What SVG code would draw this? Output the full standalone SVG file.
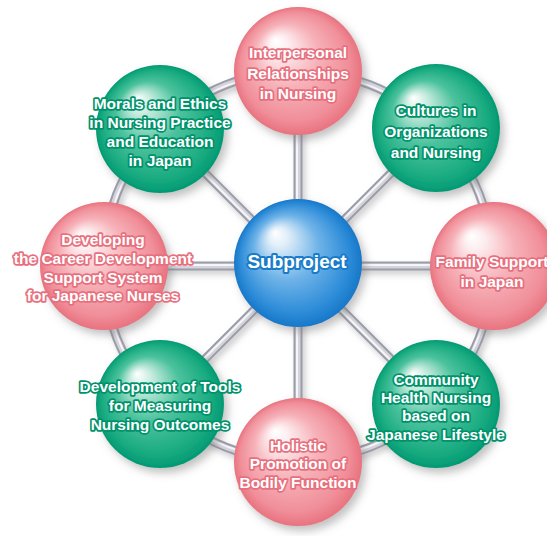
<svg xmlns="http://www.w3.org/2000/svg" width="547" height="536" viewBox="0 0 547 536">
<defs>
<radialGradient id="gPink" cx="0.5" cy="0.5" r="0.5" fx="0.32" fy="0.26">
<stop offset="0" stop-color="#ffffff"/>
<stop offset="0.15" stop-color="#fdeef0"/>
<stop offset="0.5" stop-color="#f6b1b8"/>
<stop offset="0.85" stop-color="#f08e99"/>
<stop offset="1" stop-color="#e8737f"/>
</radialGradient>
<radialGradient id="gGreen" cx="0.5" cy="0.5" r="0.5" fx="0.32" fy="0.26">
<stop offset="0" stop-color="#ffffff"/>
<stop offset="0.15" stop-color="#cfeee3"/>
<stop offset="0.5" stop-color="#4cc29d"/>
<stop offset="0.85" stop-color="#1aab80"/>
<stop offset="1" stop-color="#019a74"/>
</radialGradient>
<radialGradient id="gBlue" cx="0.5" cy="0.5" r="0.5" fx="0.32" fy="0.26">
<stop offset="0" stop-color="#ffffff"/>
<stop offset="0.15" stop-color="#e0eef9"/>
<stop offset="0.5" stop-color="#6fb3e8"/>
<stop offset="0.85" stop-color="#2d8cd8"/>
<stop offset="1" stop-color="#1778c9"/>
</radialGradient>
<filter id="sh" x="-30%" y="-30%" width="160%" height="160%">
<feDropShadow dx="4" dy="5" stdDeviation="4" flood-color="#777" flood-opacity="0.45"/>
</filter>
<filter id="shl" x="-10%" y="-10%" width="120%" height="120%">
<feDropShadow dx="3" dy="4" stdDeviation="3" flood-color="#888" flood-opacity="0.4"/>
</filter>
</defs>
<style>
.t{font-family:"Liberation Sans",Arial,Helvetica,sans-serif;font-weight:bold;font-size:15.5px;fill:#ffffff;text-anchor:middle;paint-order:stroke;stroke-width:3.5px;stroke-linejoin:round}
.tp{stroke:#e7707e}
.tg{stroke:#00926b}
.tb{stroke:#1a7cc9;font-size:19px;stroke-width:4px}
.tube1{fill:none;stroke:#9c9caa;stroke-width:9}
.tube2{fill:none;stroke:#d4d4dc;stroke-width:5}
.tube3{fill:none;stroke:#f6f6f9;stroke-width:2}
</style>
<rect width="547" height="536" fill="#ffffff"/>
<g id="connectors">
<g filter="url(#shl)">
<circle class="tube1" cx="298" cy="266" r="195"/>
<path class="tube1" d="M298 71V461M103 266H493M160.1 128.1L435.9 403.9M435.9 128.1L160.1 403.9"/>
</g>
<circle class="tube2" cx="298" cy="266" r="195"/>
<path class="tube2" d="M298 71V461M103 266H493M160.1 128.1L435.9 403.9M435.9 128.1L160.1 403.9"/>
<circle class="tube3" cx="298" cy="266" r="194"/>
<path class="tube3" d="M297 71V461M103 265H493M159.4 128.8L435.2 404.6M435.2 127.4L159.4 403.2"/>
</g>
<g id="n-top">
<circle cx="298" cy="71" r="64" fill="url(#gPink)" filter="url(#sh)"/>
<text class="t tp" x="298" y="58">Interpersonal</text>
<text class="t tp" x="298" y="79">Relationships</text>
<text class="t tp" x="298" y="99">in Nursing</text>
</g>
<g id="n-topright">
<circle cx="436" cy="128" r="64" fill="url(#gGreen)" filter="url(#sh)"/>
<text class="t tg" x="436" y="116">Cultures in</text>
<text class="t tg" x="436" y="137">Organizations</text>
<text class="t tg" x="436" y="158">and Nursing</text>
</g>
<g id="n-right">
<circle cx="494" cy="266" r="64" fill="url(#gPink)" filter="url(#sh)"/>
<text class="t tp" x="492" y="267">Family Support</text>
<text class="t tp" x="492" y="287">in Japan</text>
</g>
<g id="n-bottomright">
<circle cx="436" cy="404" r="64" fill="url(#gGreen)" filter="url(#sh)"/>
<text class="t tg" x="436" y="385">Community</text>
<text class="t tg" x="436" y="403">Health Nursing</text>
<text class="t tg" x="436" y="421">based on</text>
<text class="t tg" x="436" y="440">Japanese Lifestyle</text>
</g>
<g id="n-bottom">
<circle cx="298" cy="462" r="64" fill="url(#gPink)" filter="url(#sh)"/>
<text class="t tp" x="298" y="451">Holistic</text>
<text class="t tp" x="298" y="469">Promotion of</text>
<text class="t tp" x="298" y="488">Bodily Function</text>
</g>
<g id="n-bottomleft">
<circle cx="160" cy="404" r="64" fill="url(#gGreen)" filter="url(#sh)"/>
<text class="t tg" x="160" y="392">Development of Tools</text>
<text class="t tg" x="160" y="411">for Measuring</text>
<text class="t tg" x="160" y="430">Nursing Outcomes</text>
</g>
<g id="n-left">
<circle cx="104" cy="266" r="64" fill="url(#gPink)" filter="url(#sh)"/>
<text class="t tp" x="103" y="245">Developing</text>
<text class="t tp" x="103" y="264">the Career Development</text>
<text class="t tp" x="103" y="283">Support System</text>
<text class="t tp" x="103" y="301">for Japanese Nurses</text>
</g>
<g id="n-topleft">
<circle cx="160" cy="129" r="64" fill="url(#gGreen)" filter="url(#sh)"/>
<text class="t tg" x="160" y="109">Morals and Ethics</text>
<text class="t tg" x="160" y="128">in Nursing Practice</text>
<text class="t tg" x="160" y="147">and Education</text>
<text class="t tg" x="160" y="166">in Japan</text>
</g>
<g id="n-center">
<circle cx="298" cy="263" r="64" fill="url(#gBlue)" filter="url(#sh)"/>
<text class="t tb" x="297" y="268">Subproject</text>
</g>
</svg>
